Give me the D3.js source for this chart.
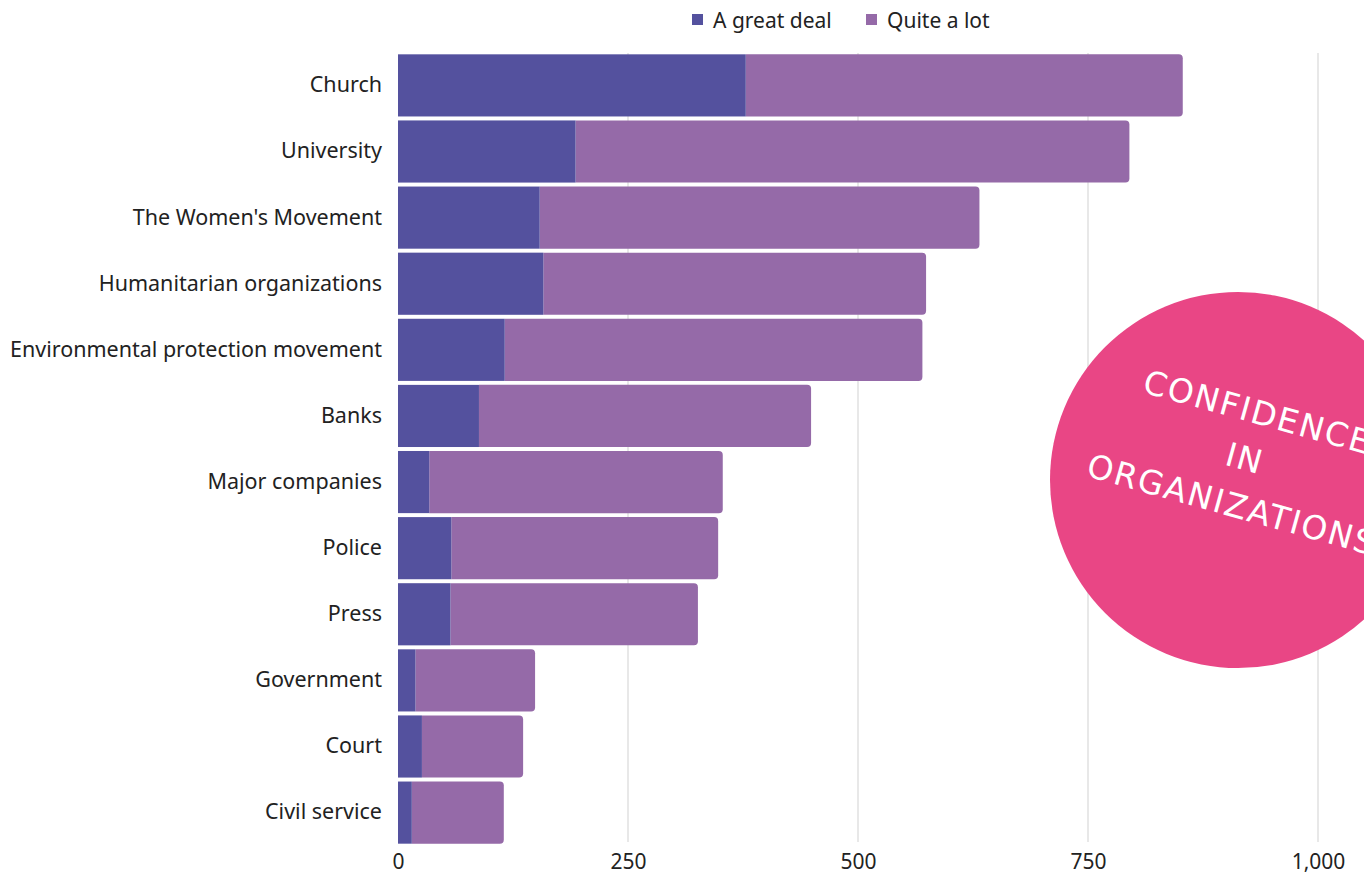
<!DOCTYPE html>
<html>
<head>
<meta charset="utf-8">
<script src="https://cdn.jsdelivr.net/npm/d3@7"></script>
<style>
  body { margin: 0; background: #fff; }
  svg { display: block; font-family: "Noto Sans", sans-serif; }
</style>
</head>
<body>
<div id="chart"></div>
<script>
var categories = ["Church", "University", "The Women's Movement", "Humanitarian organizations",
  "Environmental protection movement", "Banks", "Major companies", "Police", "Press",
  "Government", "Court", "Civil service"];
var greatDeal = [378, 193, 154, 158, 116, 88, 34, 58, 57, 19, 26, 15];
var quiteALot = [475, 602, 478, 416, 454, 361, 319, 290, 269, 130, 110, 100];
var seriesNames = ["A great deal", "Quite a lot"];
var xTicks = [0, 250, 500, 750, 1000];

var svgWidth = 1364;
var svgHeight = 874;
var colors = ["#54519e", "#956aa8"];

var svg = d3.select("#chart")
  .append("svg")
  .attr("width", svgWidth)
  .attr("height", svgHeight);

var x = d3.scaleLinear()
  .domain([0, 1000])
  .range([398, 1318]);

var y = d3.scaleBand()
  .domain(categories)
  .range([53, 845])
  .paddingInner(0.06)
  .paddingOuter(0.02);

// grid lines
svg.append("g")
  .selectAll("line")
  .data(xTicks.slice(1))
  .enter().append("line")
  .attr("x1", function(d) { return x(d); })
  .attr("x2", function(d) { return x(d); })
  .attr("y1", 53)
  .attr("y2", 842)
  .attr("stroke", "#d9d9d9")
  .attr("stroke-width", 1.2);

// x axis labels
var xAxis = svg.append("g")
  .attr("transform", "translate(0,850)")
  .call(d3.axisBottom(x).tickValues(xTicks).tickSize(0).tickPadding(0)
    .tickFormat(d3.format(",")));
xAxis.select(".domain").remove();
xAxis.selectAll("text")
  .attr("dy", "0.9em")
  .attr("font-size", 21)
  .attr("font-family", "Noto Sans")
  .attr("fill", "#222");

// y axis labels
var yAxis = svg.append("g")
  .attr("transform", "translate(382,0)")
  .call(d3.axisLeft(y).tickSize(0).tickPadding(0));
yAxis.select(".domain").remove();
yAxis.selectAll("text")
  .attr("font-size", 21.5)
  .attr("font-family", "Noto Sans")
  .attr("fill", "#222");

// total bars (quite a lot) with rounded right end
var rows = categories.map(function(c, i) {
  return { name: c, a: greatDeal[i], b: quiteALot[i] };
});
var r = 4;
svg.append("g")
  .selectAll("path")
  .data(rows)
  .enter().append("path")
  .attr("fill", colors[1])
  .attr("d", function(d) {
    var x0 = x(d.a), x1 = x(d.a + d.b);
    var y0 = y(d.name), h = y.bandwidth();
    return "M" + x0 + "," + y0 + "H" + (x1 - r) +
      "Q" + x1 + "," + y0 + " " + x1 + "," + (y0 + r) +
      "V" + (y0 + h - r) +
      "Q" + x1 + "," + (y0 + h) + " " + (x1 - r) + "," + (y0 + h) +
      "H" + x0 + "Z";
  });

svg.append("g")
  .selectAll("rect")
  .data(rows)
  .enter().append("rect")
  .attr("fill", colors[0])
  .attr("x", x(0))
  .attr("y", function(d) { return y(d.name); })
  .attr("width", function(d) { return x(d.a) - x(0); })
  .attr("height", y.bandwidth());

// legend
var legendX = [692, 866];
var legend = svg.append("g");
seriesNames.forEach(function(s, i) {
  legend.append("rect")
    .attr("x", legendX[i])
    .attr("y", 14)
    .attr("width", 11)
    .attr("height", 11)
    .attr("fill", colors[i]);
  legend.append("text")
    .attr("x", legendX[i] + 21)
    .attr("y", 28)
    .attr("font-size", 21)
    .attr("fill", "#222")
    .text(s);
});

// badge
svg.append("circle")
  .attr("cx", 1238)
  .attr("cy", 480)
  .attr("r", 188)
  .attr("fill", "#e94685");

var badge = svg.append("g")
  .attr("transform", "translate(1245,458) rotate(15.5)");
var badgeLines = ["CONFIDENCE", "IN", "ORGANIZATIONS"];
badge.selectAll("text")
  .data(badgeLines)
  .enter().append("text")
  .attr("x", 0)
  .attr("y", function(d, i) { return (i - 1) * 48 + 12; })
  .attr("text-anchor", "middle")
  .attr("font-family", "DejaVu Sans")
  .attr("font-size", 33)
  .attr("letter-spacing", 1.8)
  .attr("fill", "#fff")
  .text(function(d) { return d; });
</script>
</body>
</html>
